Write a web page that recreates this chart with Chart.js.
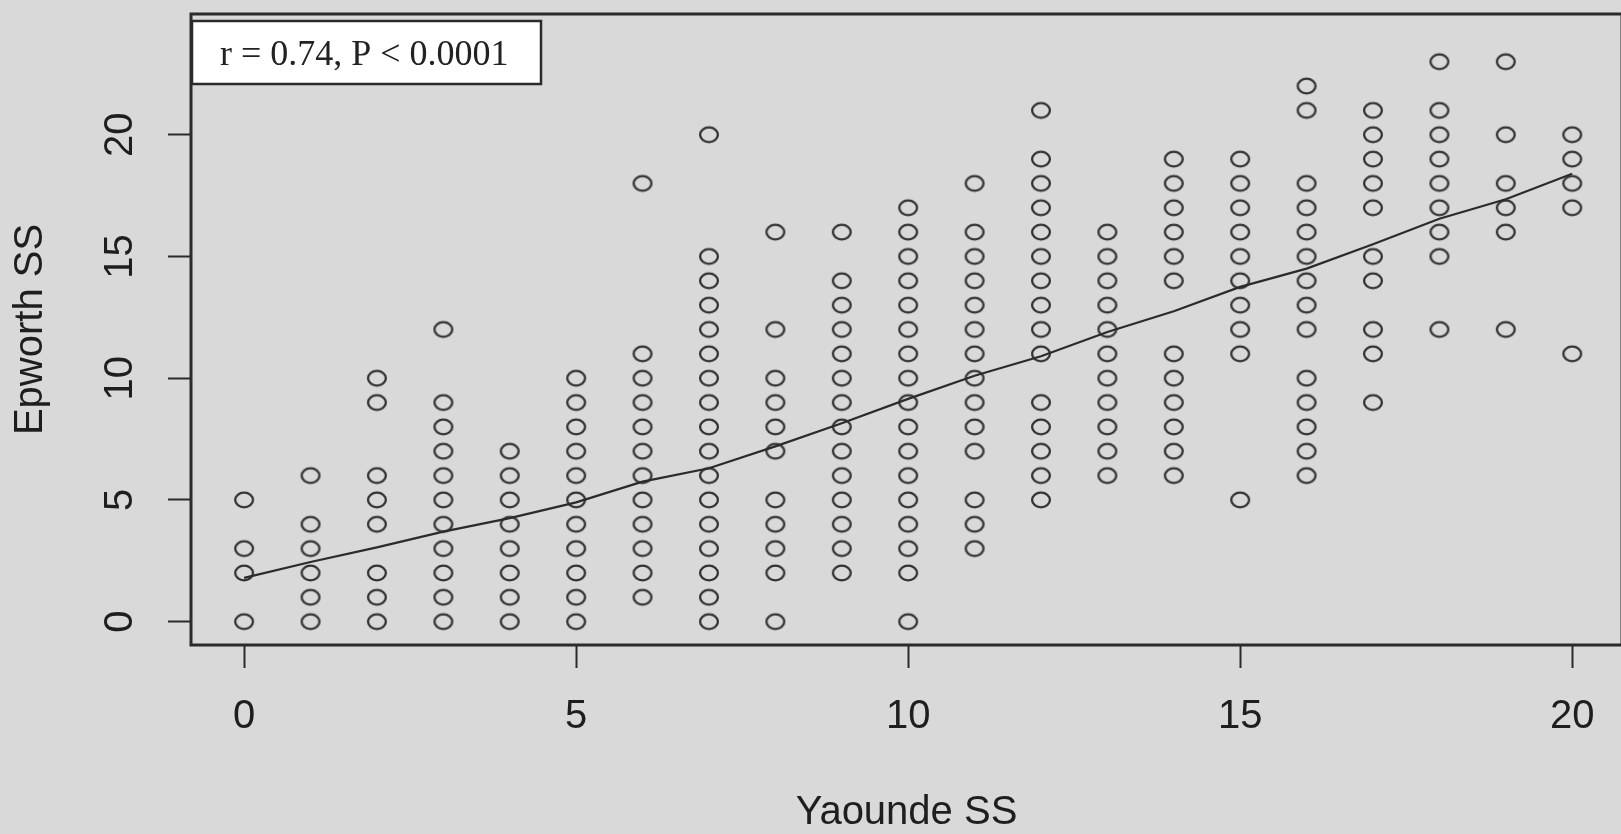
<!DOCTYPE html>
<html>
<head>
<meta charset="utf-8">
<title>Epworth SS vs Yaounde SS</title>
<script src="https://cdn.jsdelivr.net/npm/chart.js@4.4.1/dist/chart.umd.min.js"></script>
<style>
  html, body { margin: 0; padding: 0; background: #d9d9d9; overflow: hidden; }
  #wrap { width: 1624px; height: 834px; }
</style>
</head>
<body>
<div id="wrap"><canvas id="chart" width="1624" height="834"></canvas></div>
<script>
// Yaounde SS values (x) and the Epworth SS scores seen in each column
const yaoundeScores = [0, 1, 2, 3, 4, 5, 6, 7, 8, 9, 10, 11, 12, 13, 14, 15, 16, 17, 18, 19, 20];
const epworthScores = [
  [0, 2, 3, 5],                                                   // 0
  [0, 1, 2, 3, 4, 6],                                             // 1
  [0, 1, 2, 4, 5, 6, 9, 10],                                      // 2
  [0, 1, 2, 3, 4, 5, 6, 7, 8, 9, 12],                             // 3
  [0, 1, 2, 3, 4, 5, 6, 7],                                       // 4
  [0, 1, 2, 3, 4, 5, 6, 7, 8, 9, 10],                             // 5
  [1, 2, 3, 4, 5, 6, 7, 8, 9, 10, 11, 18],                        // 6
  [0, 1, 2, 3, 4, 5, 6, 7, 8, 9, 10, 11, 12, 13, 14, 15, 20],     // 7
  [0, 2, 3, 4, 5, 7, 8, 9, 10, 12, 16],                           // 8
  [2, 3, 4, 5, 6, 7, 8, 9, 10, 11, 12, 13, 14, 16],               // 9
  [0, 2, 3, 4, 5, 6, 7, 8, 9, 10, 11, 12, 13, 14, 15, 16, 17],    // 10
  [3, 4, 5, 7, 8, 9, 10, 11, 12, 13, 14, 15, 16, 18],             // 11
  [5, 6, 7, 8, 9, 11, 12, 13, 14, 15, 16, 17, 18, 19, 21],        // 12
  [6, 7, 8, 9, 10, 11, 12, 13, 14, 15, 16],                       // 13
  [6, 7, 8, 9, 10, 11, 14, 15, 16, 17, 18, 19],                   // 14
  [5, 11, 12, 13, 14, 15, 16, 17, 18, 19],                        // 15
  [6, 7, 8, 9, 10, 12, 13, 14, 15, 16, 17, 18, 21, 22],           // 16
  [9, 11, 12, 14, 15, 17, 18, 19, 20, 21],                        // 17
  [12, 15, 16, 17, 18, 19, 20, 21, 23],                           // 18
  [12, 16, 17, 18, 20, 23],                                       // 19
  [11, 17, 18, 19, 20]                                            // 20
];
// smoothed (lowess) fit read at each x
const lowessFit = [1.8, 2.45, 3.05, 3.7, 4.25, 4.9, 5.75, 6.3, 7.2, 8.15, 9.15,
                   10.1, 10.9, 11.9, 12.75, 13.75, 14.5, 15.5, 16.55, 17.35, 18.4];
const xTicks = [0, 5, 10, 15, 20];
const yTicks = [0, 5, 10, 15, 20];
const statsLabel = 'r = 0.74, P < 0.0001';

const ink = '#2b2b2b';
const sansFont = '"Liberation Sans", Arial, Helvetica, sans-serif';

const points = [];
yaoundeScores.forEach((x, i) => epworthScores[i].forEach(y => points.push({ x, y })));
const fitLine = yaoundeScores.map((x, i) => ({ x, y: lowessFit[i] }));

// R style open circle (slightly wider than tall, like the picture)
const ring = document.createElement('canvas');
ring.width = 24; ring.height = 20;
const rc = ring.getContext('2d');
rc.strokeStyle = '#333';
rc.lineWidth = 2.3;
rc.beginPath();
rc.ellipse(12, 10, 8.9, 7.4, 0, 0, Math.PI * 2);
rc.stroke();

const background = {
  id: 'background',
  beforeDraw(chart) {
    const { ctx, width, height } = chart;
    ctx.save();
    ctx.fillStyle = '#d9d9d9';
    ctx.fillRect(0, 0, width, height);
    ctx.restore();
  }
};

const frameAndStats = {
  id: 'frameAndStats',
  afterDraw(chart) {
    const { ctx, chartArea: a } = chart;
    ctx.save();
    ctx.strokeStyle = ink;
    ctx.lineWidth = 3;
    ctx.strokeRect(a.left, a.top, a.right - a.left, a.bottom - a.top);

    const bx = a.left + 1, by = a.top + 7, bw = 349, bh = 63;
    ctx.fillStyle = '#ffffff';
    ctx.fillRect(bx, by, bw, bh);
    ctx.lineWidth = 2.5;
    ctx.strokeRect(bx, by, bw, bh);
    ctx.fillStyle = '#222';
    ctx.font = '36px "Liberation Serif", "Times New Roman", serif';
    ctx.textBaseline = 'middle';
    ctx.fillText(statsLabel, bx + 28, by + bh / 2 + 3);
    ctx.restore();
  }
};

// fixed axis sizes, no extra label margins, so the plot box sits where R put it
const fixX = s => { s.height = 189; s.paddingLeft = 0; s.paddingRight = 0; s.paddingTop = 0; s.paddingBottom = 0; };
const fixY = s => { s.width = 191; s.paddingLeft = 0; s.paddingRight = 0; s.paddingTop = 0; s.paddingBottom = 0; };

new Chart(document.getElementById('chart'), {
  data: {
    datasets: [
      { type: 'line', data: fitLine, borderColor: ink, borderWidth: 2.2, pointRadius: 0, tension: 0, fill: false },
      { type: 'scatter', data: points, pointStyle: ring, pointRadius: 10 }
    ]
  },
  plugins: [background, frameAndStats],
  options: {
    responsive: false,
    animation: false,
    devicePixelRatio: 1,
    layout: { autoPadding: false, padding: { top: 14, right: 2, left: 0, bottom: 0 } },
    plugins: { legend: { display: false }, tooltip: { enabled: false } },
    scales: {
      x: {
        type: 'linear', min: -0.8, max: 20.75,
        afterBuildTicks: s => { s.ticks = xTicks.map(v => ({ value: v })); },
        afterFit: fixX,
        border: { display: false },
        grid: { drawOnChartArea: false, drawTicks: true, tickLength: 23, tickWidth: 2, tickColor: ink },
        ticks: { color: '#1e1e1e', maxRotation: 0, padding: 29, font: { family: sansFont, size: 40, lineHeight: 1 } },
        title: { display: true, text: 'Yaounde SS', color: '#1e1e1e', padding: { top: 0, bottom: 1 },
                 font: { family: sansFont, size: 40, lineHeight: 1 } }
      },
      y: {
        type: 'linear', min: -0.96, max: 24.96,
        afterBuildTicks: s => { s.ticks = yTicks.map(v => ({ value: v })); },
        afterFit: fixY,
        border: { display: false },
        grid: { drawOnChartArea: false, drawTicks: true, tickLength: 23, tickWidth: 2, tickColor: ink },
        ticks: { color: '#1e1e1e', minRotation: 90, maxRotation: 90, crossAlign: 'center', padding: 25,
                 font: { family: sansFont, size: 40, lineHeight: 1 } },
        title: { display: true, text: 'Epworth SS', color: '#1e1e1e', padding: { top: 11, bottom: 0 },
                 font: { family: sansFont, size: 40, lineHeight: 1 } }
      }
    }
  }
});
</script>
</body>
</html>
